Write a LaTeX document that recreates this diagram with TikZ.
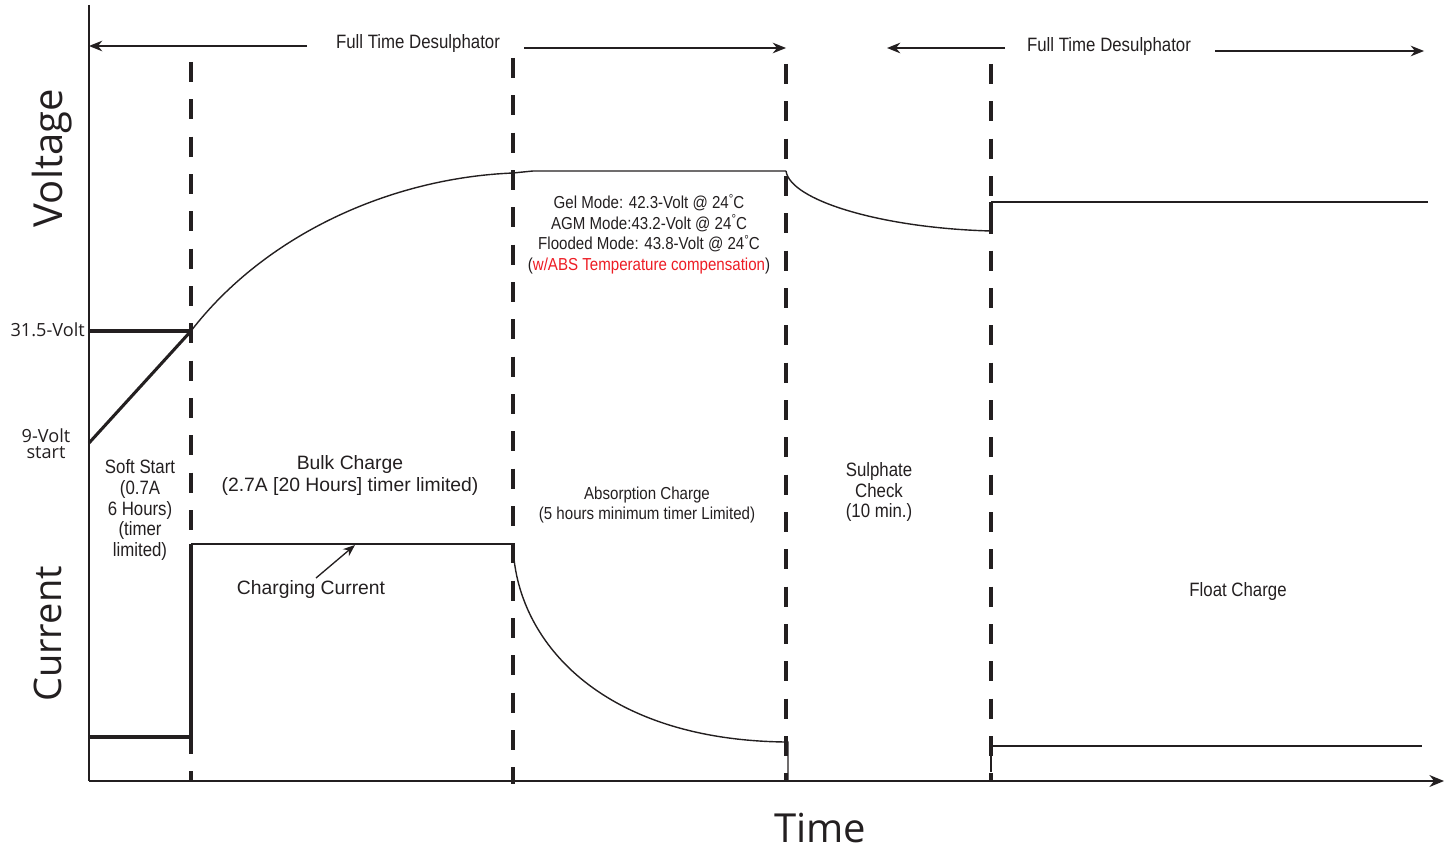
\documentclass[tikz,border=0pt]{standalone}
\usepackage{fontspec}
\setmainfont{Liberation Sans}
\newfontfamily\condfont[FakeStretch=0.87]{Liberation Sans}
\newfontfamily\axfont{Open Sans}
\usetikzlibrary{arrows.meta}
\definecolor{ink}{HTML}{231F20}
\definecolor{redtxt}{HTML}{ED1C24}
\newcommand{\degsym}{\raisebox{0.6ex}{\scalebox{0.75}{°}}}
\begin{document}
\begin{tikzpicture}[x=0.75pt,y=-0.75pt,
  phase/.style={line width=2.9pt, dash pattern=on 15pt off 13pt, draw=ink},
  axis/.style={line width=1.1pt, draw=ink},
  curve/.style={line width=1.05pt, draw=ink},
  heavy/.style={line width=2.3pt, draw=ink},
  arr/.style={-{Stealth[length=10pt,width=8pt]}, line width=1pt, draw=ink},
  axarr/.style={-{Stealth[length=11pt,width=9pt]}, line width=1.1pt, draw=ink},
  cond/.style={text=ink, font=\condfont\fontsize{14.5}{15.5}\selectfont, align=center, inner sep=0pt},
  small/.style={text=ink, font=\condfont\fontsize{13}{15.4}\selectfont, align=center, inner sep=0pt},
  reg/.style={text=ink, font=\fontsize{14.5}{16.5}\selectfont, align=center, inner sep=0pt},
  axlbl/.style={text=ink, font=\axfont\fontsize{13.6}{12}\selectfont, align=center, inner sep=0pt},
  big/.style={text=ink, inner sep=0pt}
]
\useasboundingbox (0,0) rectangle (1444,849);

% axes
\coordinate (origin) at (89,781);
\coordinate (ytop) at (89,5);
\coordinate (xend) at (1444,781);
\draw[axis] (ytop) -- (origin);
\draw[axarr] (origin) -- (xend);

% phase boundaries
\coordinate (d1t) at (191,62);  \coordinate (d1b) at (191,781);
\coordinate (d2t) at (513,58);  \coordinate (d2b) at (513,784);
\coordinate (d3t) at (786,64);  \coordinate (d3b) at (786,781);
\coordinate (d4t) at (991,64);  \coordinate (d4b) at (991,781);
\draw[phase] (d1t) -- (d1b);
\draw[phase] (d2t) -- (d2b);
\draw[phase] (d3t) -- (d3b);
\draw[phase] (d4t) -- (d4b);

% voltage curve
\coordinate (v0) at (89,443);
\coordinate (vs) at (89,331);
\coordinate (v1) at (191,331);
\coordinate (v2) at (513,173);
\coordinate (v2b) at (533,171);
\coordinate (v3) at (786,171);
\coordinate (v4) at (991,231);
\coordinate (v5) at (991,202);
\coordinate (v6) at (1428,202);
\draw[heavy] (vs) -- (v1);
\draw[heavy] (v0) -- (v1);
\draw[curve] (v1) .. controls (265,235) and (390,178) .. (v2) -- (v2b) -- (v3);
\draw[curve] (v3) .. controls (790,200) and (880,228) .. (v4);
\draw[heavy, line width=2.6pt] (991,234) -- (v5);
\draw[curve] (v5) -- (v6);

% current curve
\coordinate (c0) at (89,737);
\coordinate (c1) at (191,737);
\coordinate (c2) at (191,544);
\coordinate (c3) at (513,544);
\coordinate (c4) at (788,742);
\coordinate (c5) at (788,781);
\coordinate (c6) at (991,772);
\coordinate (c7) at (991,746);
\coordinate (c8) at (1422,746);
\draw[heavy, line width=2.5pt] (c0) -- (c1);
\draw[line width=2.9pt, draw=ink] (c1) -- (c2);
\draw[curve] (c2) -- (c3);
\draw[curve] (c3) .. controls (515,640) and (600,740) .. (786,742) -- (c4) -- (c5);
\draw[curve] (c6) -- (c7) -- (c8);

% top desulphator arrows
\node[cond] (fd1) at (418,44) {Full Time Desulphator};
\node[cond] (fd2) at (1109,47) {Full Time Desulphator};
\coordinate (a1s) at (307,46); \coordinate (a1e) at (89,46);
\coordinate (a2s) at (524,48); \coordinate (a2e) at (786,48);
\coordinate (a3s) at (1005,48); \coordinate (a3e) at (887,48);
\coordinate (a4s) at (1215,51); \coordinate (a4e) at (1424,51);
\draw[arr] (a1s) -- (a1e);
\draw[arr] (a2s) -- (a2e);
\draw[arr] (a3s) -- (a3e);
\draw[arr] (a4s) -- (a4e);

% axis labels
\node[big, font=\axfont\fontsize{30}{30}\selectfont, rotate=90, anchor=base] (volt) at (62,158) {Voltage};
\node[big, font=\axfont\fontsize{28.5}{28}\selectfont, rotate=90, anchor=base] (curr) at (61,634) {Current};
\node[big, font=\axfont\fontsize{30}{30}\selectfont, anchor=base] (time) at (820,842) {Time};
\node[axlbl, anchor=east] (v315) at (85,330) {31.5-Volt};
\node[axlbl] (v9) at (46,444) {9-Volt\\start};

% phase labels
\node[cond] (soft) at (140,510) {Soft Start\\(0.7A\\6 Hours)\\ (timer\\limited)};
\node[reg] (bulk) at (350,475) {Bulk Charge\\(2.7A [20 Hours] timer limited)};
\node[small] (abs) at (647,505) {Absorption Charge\\(5 hours minimum timer Limited)};
\node[cond] (sulph) at (879,492) {Sulphate\\Check\\(10 min.)};
\node[cond] (float) at (1238,591) {Float Charge};
\node[small] (modes) at (649,234) {Gel Mode: 42.3-Volt @ 24\degsym C\\AGM Mode:43.2-Volt @ 24\degsym C\\Flooded Mode: 43.8-Volt @ 24\degsym C\\(\textcolor{redtxt}{w/ABS Temperature compensation})};

% charging current pointer
\node[reg] (chg) at (311,589) {Charging Current};
\coordinate (chgtip) at (355,545);
\coordinate (chgtail) at (316,578);
\draw[arr, -{Stealth[length=9pt,width=7pt]}] (chgtail) -- (chgtip);
\end{tikzpicture}
\end{document}
